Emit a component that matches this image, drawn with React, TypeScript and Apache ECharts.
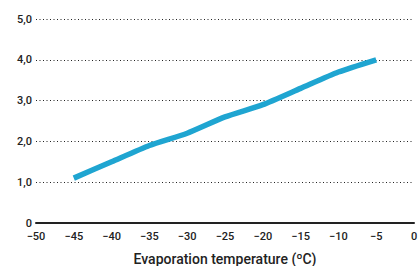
import React, { useEffect, useRef } from "react";
import * as echarts from "echarts";

const temperatures = [-45, -40, -35, -30, -25, -20, -15, -10, -5];
const values = [1.1, 1.5, 1.9, 2.2, 2.6, 2.9, 3.3, 3.7, 4.0];
const xAxisTitle = "Evaporation temperature (ºC)";

export default function App() {
  const ref = useRef<HTMLDivElement>(null);
  useEffect(() => {
    const chart = echarts.init(ref.current!, null, { renderer: "svg" });
    chart.setOption({
      animation: false,
      grid: { left: 36, right: 6, top: 19, bottom: 43, outerBoundsMode: "none", containLabel: false },
      xAxis: {
        type: "value",
        min: -50,
        max: 0,
        interval: 5,
        name: xAxisTitle,
        nameLocation: "middle",
        nameGap: 29,
        nameTextStyle: { fontFamily: "Roboto", fontSize: 14, fontWeight: 500, color: "#222" },
        axisLine: { show: true, lineStyle: { color: "#222", width: 2 } },
        axisTick: { show: false },
        splitLine: { show: false },
        axisLabel: {
          fontFamily: "Roboto",
          fontSize: 11,
          fontWeight: 500,
          color: "#222",
          margin: 8,
          formatter: (v: number) => (v < 0 ? "\u2212" + Math.abs(v) : String(v)),
        },
      },
      yAxis: {
        type: "value",
        min: 0,
        max: 5,
        interval: 1,
        axisLine: { show: false },
        axisTick: { show: false },
        splitLine: { show: true, lineStyle: { color: "#222", type: [1, 2.5], width: 1 } },
        axisLabel: {
          fontFamily: "Roboto",
          fontSize: 11,
          fontWeight: 500,
          color: "#222",
          margin: 4,
          formatter: (v: number) => (v === 0 ? "0" : v.toFixed(1).replace(".", ",")),
        },
      },
      series: [
        {
          type: "line",
          data: temperatures.map((t, i) => [t, values[i]]),
          showSymbol: false,
          smooth: 0.2,
          lineStyle: { color: "#1fa5d1", width: 5.5, cap: "butt" },
        },
      ],
    });
    return () => chart.dispose();
  }, []);
  return <div ref={ref} style={{ width: 420, height: 266, position: "absolute", left: 0, top: 0 }} />;
}
